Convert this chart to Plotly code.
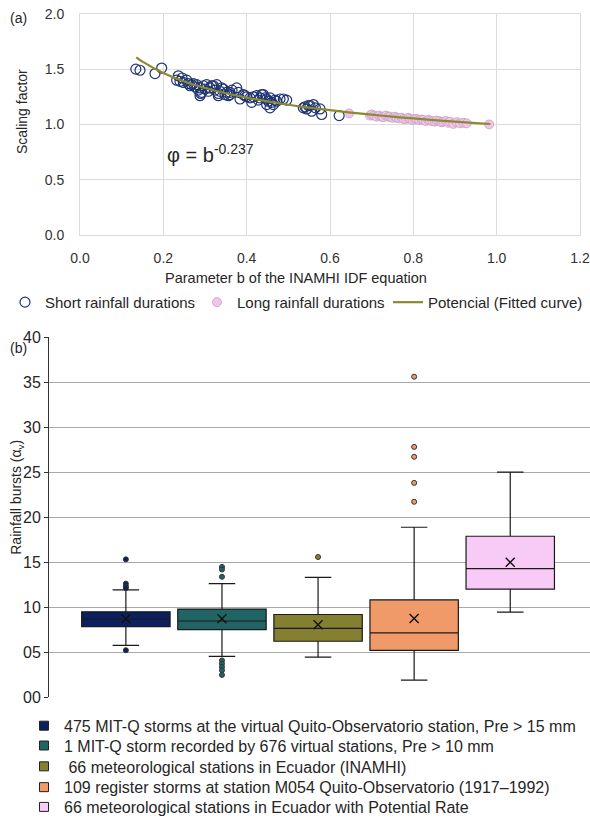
import plotly.graph_objects as go

# ---------------- Panel (a) data ----------------
short_b = [0.134, 0.144, 0.180, 0.196, 0.232, 0.236, 0.240, 0.245, 0.248, 0.256, 0.260, 0.264,
           0.268, 0.272, 0.276, 0.280, 0.284, 0.288, 0.288, 0.290, 0.292, 0.296, 0.300, 0.304,
           0.308, 0.312, 0.316, 0.320, 0.324, 0.328, 0.332, 0.332, 0.336, 0.340, 0.344, 0.348,
           0.352, 0.356, 0.360, 0.360, 0.365, 0.376, 0.380, 0.384, 0.392, 0.396, 0.400, 0.408,
           0.412, 0.416, 0.424, 0.428, 0.432, 0.436, 0.440, 0.444, 0.448, 0.448, 0.452, 0.456,
           0.456, 0.460, 0.464, 0.468, 0.472, 0.480, 0.488, 0.496, 0.536, 0.540, 0.544, 0.548,
           0.552, 0.556, 0.560, 0.565, 0.576, 0.580, 0.622]
short_phi = [1.50, 1.49, 1.46, 1.51, 1.40, 1.44, 1.39, 1.42, 1.38, 1.40, 1.37, 1.35,
             1.36, 1.37, 1.34, 1.36, 1.31, 1.33, 1.26, 1.28, 1.29, 1.35, 1.32, 1.36,
             1.30, 1.33, 1.35, 1.35, 1.31, 1.36, 1.26, 1.28, 1.30, 1.33, 1.32, 1.27,
             1.29, 1.26, 1.27, 1.29, 1.31, 1.33, 1.29, 1.23, 1.27, 1.26, 1.25, 1.24,
             1.20, 1.25, 1.26, 1.22, 1.24, 1.27, 1.27, 1.24, 1.23, 1.18, 1.21, 1.24,
             1.15, 1.20, 1.18, 1.22, 1.21, 1.23, 1.23, 1.22, 1.15, 1.16, 1.14, 1.17,
             1.17, 1.12, 1.18, 1.15, 1.14, 1.09, 1.08]

long_b = [0.646, 0.696, 0.700, 0.706, 0.712, 0.718, 0.724, 0.728, 0.734, 0.740, 0.744, 0.750,
          0.756, 0.760, 0.766, 0.772, 0.776, 0.782, 0.788, 0.792, 0.798, 0.804, 0.808, 0.814,
          0.820, 0.824, 0.830, 0.836, 0.840, 0.846, 0.852, 0.856, 0.862, 0.868, 0.872, 0.878,
          0.884, 0.888, 0.896, 0.904, 0.912, 0.920, 0.928, 0.982]
long_phi = [1.10, 1.08, 1.09, 1.08, 1.07, 1.08, 1.07, 1.065, 1.08, 1.07, 1.07, 1.06,
            1.07, 1.06, 1.055, 1.06, 1.05, 1.05, 1.06, 1.05, 1.04, 1.05, 1.05, 1.04,
            1.045, 1.04, 1.03, 1.04, 1.035, 1.03, 1.025, 1.035, 1.03, 1.02, 1.025, 1.03,
            1.015, 1.025, 1.005, 1.02, 1.01, 1.015, 1.01, 1.00]

fit_b = [0.135, 0.15, 0.20, 0.25, 0.30, 0.35, 0.40, 0.45, 0.50, 0.55, 0.60, 0.65,
         0.70, 0.75, 0.80, 0.85, 0.90, 0.95, 0.985]
fit_phi = [1.607, 1.568, 1.465, 1.388, 1.330, 1.282, 1.243, 1.208, 1.178, 1.152, 1.129, 1.107,
           1.088, 1.070, 1.054, 1.039, 1.025, 1.012, 1.004]

# ---------------- Panel (b) data ----------------
box_names = [
    "475 MIT-Q storms at the virtual Quito-Observatorio station, Pre > 15 mm",
    "1 MIT-Q storm recorded by 676 virtual stations, Pre > 10 mm",
    " 66 meteorological stations in Ecuador (INAMHI)",
    "109 register storms at station M054 Quito-Observatorio (1917\u20131992)",
    "66 meteorological stations in Ecuador with Potential Rate",
]
box_colors = ["#0c1f5e", "#216464", "#857f30", "#f19a69", "#f8caf6"]
q1_vals = [7.82, 7.49, 6.20, 5.18, 12.00]
median_vals = [8.67, 8.45, 7.63, 7.12, 14.28]
q3_vals = [9.47, 9.77, 9.17, 10.80, 17.87]
lower_vals = [5.73, 4.52, 4.44, 1.87, 9.44]
upper_vals = [11.90, 12.60, 13.30, 18.87, 25.00]
mean_vals = [8.70, 8.70, 8.04, 8.73, 14.98]
outliers = [
    [15.3, 12.6, 12.3, 12.1, 5.2],
    [14.46, 14.17, 13.36, 4.07, 3.70, 3.34, 2.97, 2.46],
    [15.56],
    [35.6, 27.8, 26.7, 23.8, 21.7],
    [],
]

FONT = "Liberation Sans, Arial, sans-serif"
TXT = "#262626"
W, H = 590, 824


def px(xp):
    return xp / W


def py(yp):
    return 1 - yp / H


fig = go.Figure()

# ----- panel (a) traces -----
fig.add_trace(go.Scatter(
    x=short_b, y=short_phi, mode="markers", name="Short rainfall durations",
    marker=dict(symbol="circle-open", size=10, color="#1f3475", line=dict(width=1.2, color="#1f3475")),
    xaxis="x", yaxis="y", legend="legend"))
fig.add_trace(go.Scatter(
    x=long_b, y=long_phi, mode="markers", name="Long rainfall durations",
    marker=dict(symbol="circle", size=9, color="#f2c4ec", line=dict(width=0.8, color="#c79ec2")),
    xaxis="x", yaxis="y", legend="legend2"))
fig.add_trace(go.Scatter(
    x=fit_b, y=fit_phi, mode="lines", name="Potencial (Fitted curve)",
    line=dict(color="#8a8a2e", width=2.2, shape="spline"),
    xaxis="x", yaxis="y", legend="legend3"))

# ----- panel (b) traces -----
for i in range(5):
    fig.add_trace(go.Box(
        x=[i], q1=[q1_vals[i]], median=[median_vals[i]], q3=[q3_vals[i]],
        lowerfence=[lower_vals[i]], upperfence=[upper_vals[i]],
        width=0.92, whiskerwidth=0.3, fillcolor=box_colors[i],
        line=dict(color="#1a1a1a", width=1.2), showlegend=False,
        xaxis="x2", yaxis="y2", hoverinfo="skip"))
    if outliers[i]:
        fig.add_trace(go.Scatter(
            x=[i] * len(outliers[i]), y=outliers[i], mode="markers", showlegend=False,
            marker=dict(size=5, color=box_colors[i], line=dict(width=1, color="#333333")),
            xaxis="x2", yaxis="y2"))
    fig.add_trace(go.Scatter(
        x=[i], y=[mean_vals[i]], mode="markers", showlegend=False,
        marker=dict(symbol="x-thin", size=9, color="#111111", line=dict(width=1.4, color="#111111")),
        xaxis="x2", yaxis="y2"))

legend_rows = [732, 752, 773, 794, 814]
for i in range(5):
    fig.add_trace(go.Scatter(
        x=[None], y=[None], mode="markers", name=box_names[i],
        marker=dict(symbol="square", size=9, color=box_colors[i], line=dict(width=1, color="#222222")),
        xaxis="x2", yaxis="y2", legend="legend%d" % (i + 4)))

legends = {}
top_legend_x = [5, 197, 388]
for k, xl in enumerate(top_legend_x):
    key = "legend" if k == 0 else "legend%d" % (k + 1)
    legends[key] = dict(orientation="h", x=px(xl), y=py(305), xanchor="left", yanchor="middle",
                        font=dict(size=15, color=TXT), bgcolor="rgba(0,0,0,0)", itemwidth=30)
for i, yr in enumerate(legend_rows):
    legends["legend%d" % (i + 4)] = dict(orientation="v", x=px(24), y=py(yr), xanchor="left",
                                         yanchor="middle", font=dict(size=16, color=TXT),
                                         bgcolor="rgba(0,0,0,0)", itemwidth=30)

fig.update_layout(
    width=W, height=H,
    margin=dict(l=0, r=0, t=0, b=0),
    paper_bgcolor="white", plot_bgcolor="white",
    font=dict(family=FONT, size=14, color=TXT),
    xaxis=dict(domain=[px(80), px(580)], range=[0, 1.2], dtick=0.2, tickformat=".1f",
               showgrid=True, gridcolor="#dcdcdc", gridwidth=1, zeroline=False,
               showline=True, linecolor="#dcdcdc", mirror=True,
               ticks="outside", ticklen=10, tickcolor="rgba(0,0,0,0)",
               tickfont=dict(size=14, color="#333333"), ticklabeloverflow="allow",
               anchor="y", automargin=False),
    yaxis=dict(domain=[py(237), py(14)], range=[0, 2], dtick=0.5, tickformat=".1f",
               showgrid=True, gridcolor="#dcdcdc", gridwidth=1, zeroline=False,
               showline=True, linecolor="#dcdcdc", mirror=True,
               ticks="outside", ticklen=12, tickcolor="rgba(0,0,0,0)",
               tickfont=dict(size=14, color="#333333"),
               anchor="x", automargin=False),
    xaxis2=dict(domain=[px(49), 1.0], range=[-0.80, 4.83], showticklabels=False,
                showgrid=False, zeroline=False, showline=False, ticks="",
                anchor="y2", automargin=False),
    yaxis2=dict(domain=[py(703), py(340)], range=[0, 40], dtick=5, tickformat="02d",
                showgrid=True, gridcolor="#a8a8a8", gridwidth=1, zeroline=False,
                showline=True, linecolor="#333333", linewidth=1,
                ticks="outside", ticklen=4, tickcolor="#333333",
                tickfont=dict(size=16, color=TXT),
                anchor="x2", automargin=False),
    annotations=[
        dict(text="(a)", x=px(8), y=py(18), xref="paper", yref="paper", xanchor="left",
             yanchor="middle", showarrow=False, font=dict(size=14, color=TXT)),
        dict(text="(b)", x=px(8), y=py(351), xref="paper", yref="paper", xanchor="left",
             yanchor="middle", showarrow=False, font=dict(size=14, color=TXT)),
        dict(text="\u03c6 = b<sup>-0.237</sup>", x=0.204, y=0.74, xref="x", yref="y",
             xanchor="left", yanchor="middle", showarrow=False, font=dict(size=20, color=TXT)),
        dict(text="Scaling factor", x=px(22), y=py(113), xref="paper", yref="paper",
             textangle=-90, xanchor="center", yanchor="middle", showarrow=False,
             font=dict(size=14, color=TXT)),
        dict(text="Parameter b of the INAMHI IDF equation", x=px(296), y=py(280), xref="paper",
             yref="paper", xanchor="center", yanchor="middle", showarrow=False,
             font=dict(size=14.5, color=TXT)),
        dict(text="Rainfall bursts (\u03b1<sub>v</sub>)", x=px(17), y=py(502), xref="paper",
             yref="paper", textangle=-90, xanchor="center", yanchor="middle", showarrow=False,
             font=dict(size=14, color=TXT)),
    ],
    showlegend=True,
    **legends,
)

fig.write_html("out.html", config={"displayModeBar": False},
               post_script="document.body.style.margin='0px';document.body.style.overflow='hidden';")
